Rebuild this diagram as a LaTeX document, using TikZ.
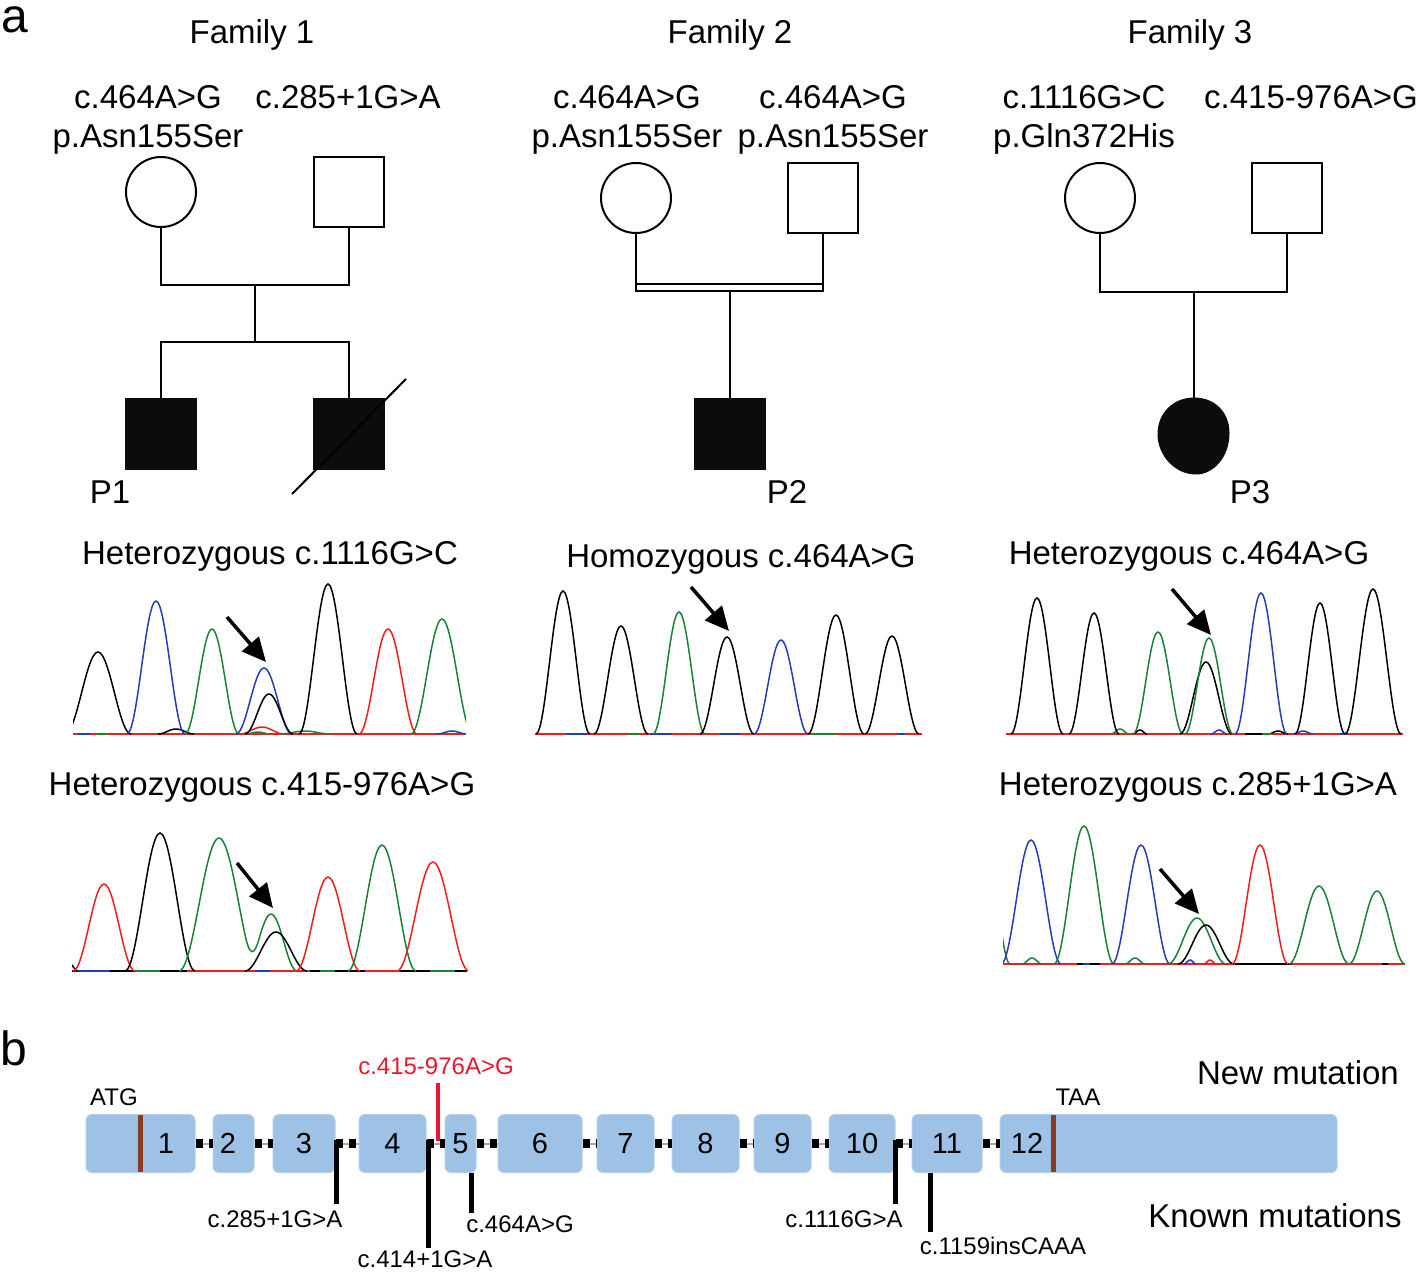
\documentclass[tikz,border=0pt]{standalone}
\usepackage{fontspec}
\setmainfont{Liberation Sans}
\usetikzlibrary{arrows.meta}
\definecolor{exonblue}{RGB}{157,194,229}
\definecolor{exonedge}{RGB}{178,207,236}
\definecolor{brownln}{RGB}{140,60,30}
\definecolor{redmut}{RGB}{232,25,45}
\definecolor{chblue}{RGB}{40,60,185}
\definecolor{chgreen}{RGB}{25,130,55}
\definecolor{chred}{RGB}{240,30,30}
\definecolor{affect}{RGB}{12,12,12}
\newcommand{\chpeak}[5]{%
 \pgfmathsetmacro{\pka}{#2-#4}\pgfmathsetmacro{\pkb}{#2+#4}%
 \draw[#1, pk] plot[domain=\pka:\pkb, samples=31, smooth] (\x,{#5-(#5-#3)*(0.5+0.5*cos((\x-#2)/#4*180))});}
\begin{document}
\begin{tikzpicture}[x=1pt,y=-1pt,
  t32/.style={font=\fontsize{33}{39}\selectfont, inner sep=0pt, text height=23.6pt, text depth=0pt},
  t24/.style={font=\fontsize{24}{29}\selectfont, inner sep=0pt, text height=17.2pt, text depth=0pt},
  tbig/.style={font=\fontsize{48}{54}\selectfont, inner sep=0pt},
  female/.style={circle, draw, line width=2pt, minimum size=70pt, inner sep=0pt},
  male/.style={rectangle, draw, line width=2pt, minimum size=70pt, inner sep=0pt},
  affmale/.style={male, fill=affect, draw=affect},
  pline/.style={line width=2pt},
  pk/.style={line width=1.5pt},
  base/.style={line width=1.6pt},
  seqarrow/.style={line width=3.5pt, -{Triangle[length=24pt,width=22pt]}},
  exon/.style={rectangle, rounded corners=6pt, fill=exonblue, draw=exonedge, line width=1pt,
     minimum height=58pt, inner sep=0pt, font=\fontsize{29}{34}\selectfont},
  intronline/.style={draw=gray!70, line width=2pt},
  introndash/.style={draw=black, line width=9pt, dash pattern=on 7pt off 6pt},
  mutline/.style={line width=5pt},
  codon/.style={draw=brownln, line width=5pt}
]
\useasboundingbox (0,0) rectangle (1418,1272);

% ---------- panel labels ----------
\node[tbig, anchor=base west] (la) at (1,32) {a};
\node[tbig, anchor=base west] (lb) at (0,1065) {b};

% ---------- Family 1 ----------
\node[t32] (fam1) at (252,32) {Family 1};
\node[t32] (f1m1) at (148,97) {c.464A>G};
\node[t32] (f1m2) at (148,136) {p.Asn155Ser};
\node[t32] (f1f1) at (348,97) {c.285+1G>A};
\node[female] (m1) at (161,192) {};
\node[male] (f1) at (349,192) {};
\coordinate (m1d) at (161,285);
\coordinate (f1d) at (349,285);
\coordinate (c1u) at (255,285);
\coordinate (c1d) at (255,342);
\coordinate (s1l) at (161,342);
\coordinate (s1r) at (349,342);
\node[affmale] (p1) at (161,434) {};
\node[affmale] (p1b) at (349,434) {};
\draw[pline] (m1.south) -- (m1d) -- (f1d) -- (f1.south);
\draw[pline] (c1u) -- (c1d);
\draw[pline] (p1.north) -- (s1l) -- (s1r) -- (p1b.north);
\coordinate (dA) at (292,494);
\coordinate (dB) at (406,379);
\draw[pline, draw=black] (dA) -- (dB);
\node[t32] (lp1) at (110,492) {P1};

% ---------- Family 2 ----------
\node[t32] (fam2) at (730,32) {Family 2};
\node[t32] (f2m1) at (627,97) {c.464A>G};
\node[t32] (f2m2) at (627,136) {p.Asn155Ser};
\node[t32] (f2f1) at (833,97) {c.464A>G};
\node[t32] (f2f2) at (833,136) {p.Asn155Ser};
\node[female] (m2) at (636,198) {};
\node[male] (f2) at (823,198) {};
\coordinate (m2a) at (636,284);
\coordinate (m2b) at (636,291);
\coordinate (f2a) at (823,284);
\coordinate (f2b) at (823,291);
\coordinate (c2u) at (730,291);
\node[affmale] (p2) at (730,434) {};
\draw[pline] (m2.south) -- (m2b) -- (f2b) -- (f2.south);
\draw[pline] (m2a) -- (f2a);
\draw[pline] (c2u) -- (p2.north);
\node[t32] (lp2) at (787,492) {P2};

% ---------- Family 3 ----------
\node[t32] (fam3) at (1190,32) {Family 3};
\node[t32] (f3m1) at (1084,97) {c.1116G>C};
\node[t32] (f3m2) at (1084,136) {p.Gln372His};
\node[t32] (f3f1) at (1311,97) {c.415-976A>G};
\node[female] (m3) at (1100,198) {};
\node[male] (f3) at (1287,198) {};
\coordinate (m3d) at (1100,292);
\coordinate (f3d) at (1287,292);
\coordinate (c3u) at (1194,292);
\coordinate (p3top) at (1194,398);
\draw[pline] (m3.south) -- (m3d) -- (f3d) -- (f3.south);
\draw[pline] (c3u) -- (p3top);
\filldraw[line width=1pt, fill=affect, draw=affect] (p3top) .. controls (1215,398) and (1229,413) .. (1229,433)
   .. controls (1229,457) and (1213,474) .. (1196,474)
   .. controls (1175,474) and (1158,455) .. (1158,434)
   .. controls (1158,413) and (1174,398) .. (p3top) -- cycle;
\node[t32] (lp3) at (1250,492) {P3};

% ---------- Sequence headings ----------
\node[t32] (h1) at (270,553) {Heterozygous c.1116G>C};
\node[t32] (h2) at (741,556) {Homozygous c.464A>G};
\node[t32] (h3) at (1189,553) {Heterozygous c.464A>G};
\node[t32] (h4) at (262,784) {Heterozygous c.415-976A>G};
\node[t32] (h5) at (1198,784) {Heterozygous c.285+1G>A};

% ---------- Chromatogram 1 ----------
\begin{scope}
\clip (73,560) rectangle (466,740);
\draw[base, chred] (73,734) -- (465,734);
\draw[base, chblue] (78,734) -- (90,734);
\draw[base, chgreen] (95,734) -- (108,734);
\chpeak{black}{176}{729}{18}{734}
\chpeak{chred}{262}{727}{22}{734}
\chpeak{chgreen}{305}{731}{25}{734}
\chpeak{chgreen}{258}{732}{12}{734}
\chpeak{black}{98}{652}{33}{734}
\chpeak{chblue}{156}{601}{29}{734}
\chpeak{chgreen}{212}{629}{27}{734}
\chpeak{chblue}{264}{668}{28}{734}
\chpeak{black}{269}{694}{24}{734}
\chpeak{black}{328}{584}{29}{734}
\chpeak{chred}{388}{629}{29}{734}
\chpeak{chgreen}{442}{619}{31}{734}
\chpeak{chblue}{452}{731}{15}{734}
\end{scope}
\coordinate (a1s) at (227,617);
\coordinate (a1e) at (266,662);
\draw[seqarrow] (a1s) -- (a1e);

% ---------- Chromatogram 2 ----------
\begin{scope}
\clip (535,560) rectangle (923,740);
\draw[base, chred] (535,734) -- (922,734);
\draw[base, chblue] (566,734) -- (588,734);
\draw[base, chblue] (650,734) -- (672,734);
\draw[base, chgreen] (627,734) -- (640,734);
\draw[base, chblue] (720,734) -- (740,734);
\draw[base, chgreen] (810,734) -- (835,734);
\draw[base, chblue] (897,734) -- (905,734);
\chpeak{black}{563}{591}{27}{734}
\chpeak{black}{621}{626}{27}{734}
\chpeak{chgreen}{679}{612}{26}{734}
\chpeak{black}{727}{637}{27}{734}
\chpeak{chblue}{781}{640}{27}{734}
\chpeak{black}{836}{615}{28}{734}
\chpeak{black}{892}{636}{27}{734}
\end{scope}
\coordinate (a2s) at (691,587);
\coordinate (a2e) at (729,631);
\draw[seqarrow] (a2s) -- (a2e);

% ---------- Chromatogram 3 ----------
\begin{scope}
\clip (1006,560) rectangle (1404,740);
\draw[base, chred] (1006,734) -- (1403,734);
\chpeak{chgreen}{1120}{729}{9}{734}
\chpeak{black}{1140}{730}{7}{734}
\chpeak{chblue}{1219}{730}{8}{734}
\chpeak{black}{1278}{731}{10}{734}
\chpeak{chblue}{1303}{731}{10}{734}
\draw[base, black] (1245,734) -- (1262,734);
\draw[base, chgreen] (1262,734) -- (1272,734);
\draw[base, chblue] (1340,734) -- (1348,734);
\chpeak{black}{1037}{598}{26}{734}
\chpeak{black}{1094}{613}{25}{734}
\chpeak{chgreen}{1158}{632}{25}{734}
\chpeak{black}{1206}{662}{26}{734}
\chpeak{chgreen}{1209}{638}{24}{734}
\chpeak{chblue}{1261}{593}{26}{734}
\chpeak{black}{1320}{603}{25}{734}
\chpeak{black}{1373}{589}{28}{734}
\end{scope}
\coordinate (a3s) at (1172,589);
\coordinate (a3e) at (1211,635);
\draw[seqarrow] (a3s) -- (a3e);

% ---------- Chromatogram 4 ----------
\begin{scope}
\clip (72,800) rectangle (468,976);
\draw[base, black] (72,971) -- (467,971);
\draw[base, chblue] (75,971) -- (110,971);
\draw[base, chgreen] (135,971) -- (160,971);
\draw[base, chred] (187,971) -- (310,971);
\draw[base, chblue] (255,971) -- (270,971);
\draw[base, chgreen] (320,971) -- (335,971);
\draw[base, chred] (365,971) -- (400,971);
\draw[base, chgreen] (430,971) -- (455,971);
\chpeak{black}{68}{962}{10}{971}
\chpeak{chred}{104}{884}{31}{971}
\chpeak{black}{160}{833}{35}{971}
\draw[chgreen, pk] plot[domain=179:297, samples=61, smooth]
  (\x,{971-133*(abs(\x-219)<40)*(0.5+0.5*cos((\x-219)/40*180))-57*(abs(\x-271)<26)*(0.5+0.5*cos((\x-271)/26*180))});
\chpeak{black}{276}{932}{31}{971}
\chpeak{chred}{328}{877}{32}{971}
\chpeak{chgreen}{382}{845}{34}{971}
\chpeak{chred}{433}{862}{36}{971}
\end{scope}
\coordinate (a4s) at (237,863);
\coordinate (a4e) at (273,908);
\draw[seqarrow] (a4s) -- (a4e);

% ---------- Chromatogram 5 ----------
\begin{scope}
\clip (1003,800) rectangle (1406,970);
\draw[base, chred] (1003,964) -- (1405,964);
\draw[base, black] (1235,964) -- (1292,964);
\draw[base, black] (1077,964) -- (1100,964);
\draw[base, chblue] (1083,964) -- (1090,964);
\draw[base, black] (1382,964) -- (1388,964);
\chpeak{chgreen}{1032}{958}{10}{964}
\chpeak{chgreen}{1135}{958}{10}{964}
\chpeak{chblue}{1190}{960}{6}{964}
\chpeak{chred}{1210}{960}{6}{964}
\chpeak{chgreen}{990}{880}{20}{964}
\chpeak{chblue}{1031}{840}{30}{964}
\chpeak{chgreen}{1084}{826}{30}{964}
\chpeak{chblue}{1141}{845}{29}{964}
\chpeak{chgreen}{1197}{918}{29}{964}
\chpeak{black}{1206}{925}{28}{964}
\chpeak{chred}{1260}{845}{28}{964}
\chpeak{chgreen}{1319}{886}{30}{964}
\chpeak{chgreen}{1377}{891}{28}{964}
\end{scope}
\coordinate (a5s) at (1160,869);
\coordinate (a5e) at (1199,914);
\draw[seqarrow] (a5s) -- (a5e);

% ---------- Panel b: gene structure ----------
\node[exon, minimum width=109pt] (e1) at (140.5,1143.5) {};
\node[exon, minimum width=41pt] (e2) at (233.5,1143.5) {};
\node[exon, minimum width=62pt] (e3) at (304,1143.5) {3};
\node[exon, minimum width=67pt] (e4) at (392.5,1143.5) {4};
\node[exon, minimum width=31pt] (e5) at (460.5,1143.5) {5};
\node[exon, minimum width=84pt] (e6) at (540,1143.5) {6};
\node[exon, minimum width=57pt] (e7) at (625.5,1143.5) {7};
\node[exon, minimum width=67pt] (e8) at (705.5,1143.5) {8};
\node[exon, minimum width=57pt] (e9) at (782.5,1143.5) {9};
\node[exon, minimum width=66pt] (e10) at (862,1143.5) {10};
\node[exon, minimum width=70pt] (e11) at (947,1143.5) {11};
\node[exon, minimum width=337pt] (e12) at (1168.5,1143.5) {};
\node[font=\fontsize{29}{34}\selectfont, inner sep=0pt] (n1) at (166,1143.5) {1};
\node[font=\fontsize{29}{34}\selectfont, inner sep=0pt] (n2) at (228,1143.5) {2};
\node[font=\fontsize{29}{34}\selectfont, inner sep=0pt] (n12) at (1027,1143.5) {12};

\foreach \a/\b in {e1/e2,e2/e3,e3/e4,e4/e5,e5/e6,e6/e7,e7/e8,e8/e9,e9/e10,e10/e11,e11/e12}{
  \draw[intronline] (\a.east) -- (\b.west);
  \draw[introndash] (\a.east) -- (\b.west);
}

% start / stop codons
\coordinate (atgT) at (140,1115);
\coordinate (atgB) at (140,1172);
\draw[codon] (atgT) -- (atgB);
\coordinate (taaT) at (1053,1115);
\coordinate (taaB) at (1053,1172);
\draw[codon] (taaT) -- (taaB);
\node[t24] (atg) at (114,1097) {ATG};
\node[t24] (taa) at (1078,1097) {TAA};

% new mutation
\node[t24, text=redmut] (newm) at (436,1066) {c.415-976A>G};
\coordinate (nmT) at (438,1083);
\coordinate (nmB) at (438,1141);
\draw[mutline, draw=redmut, line width=4.5pt] (nmT) -- (nmB);

% known mutations
\node[t24] (k1) at (275,1219) {c.285+1G>A};
\node[t24] (k2) at (425,1259) {c.414+1G>A};
\node[t24] (k3) at (520,1224) {c.464A>G};
\node[t24] (k4) at (844,1219) {c.1116G>A};
\node[t24] (k5) at (1003,1246) {c.1159insCAAA};
\coordinate (k1t) at (336,1140);
\coordinate (k1b) at (336,1204);
\coordinate (k2t) at (428.5,1140);
\coordinate (k2b) at (428.5,1248);
\coordinate (k3t) at (471,1173);
\coordinate (k3b) at (471,1213);
\coordinate (k4t) at (895.5,1140);
\coordinate (k4b) at (895.5,1204);
\coordinate (k5t) at (930.5,1173);
\coordinate (k5b) at (930.5,1232);
\draw[mutline] (k1t) -- (k1b);
\draw[mutline] (k2t) -- (k2b);
\draw[mutline] (k3t) -- (k3b);
\draw[mutline] (k4t) -- (k4b);
\draw[mutline] (k5t) -- (k5b);

\node[t32] (lnew) at (1298,1073) {New mutation};
\node[t32] (lknown) at (1275,1216) {Known mutations};
\end{tikzpicture}
\end{document}
